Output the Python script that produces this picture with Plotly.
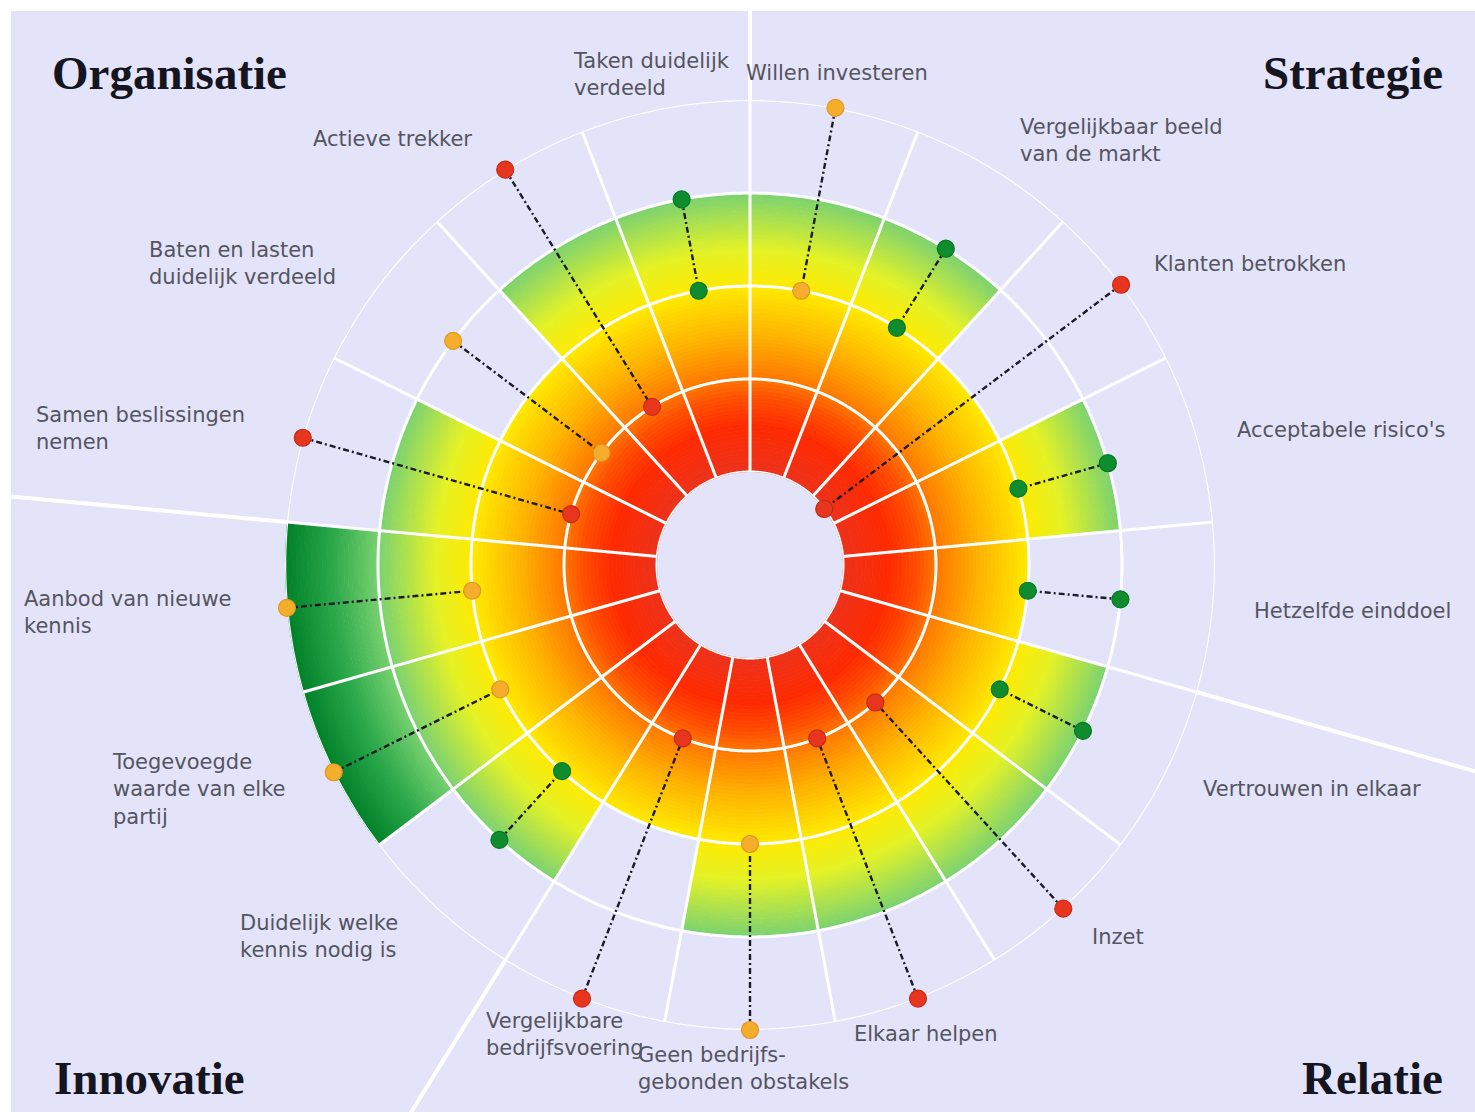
import math
import plotly.graph_objects as go

# ---- data -------------------------------------------------------------
criteria = [
    "Willen investeren",
    "Vergelijkbaar beeld van de markt",
    "Klanten betrokken",
    "Acceptabele risico's",
    "Hetzelfde einddoel",
    "Vertrouwen in elkaar",
    "Inzet",
    "Elkaar helpen",
    "Geen bedrijfsgebonden obstakels",
    "Vergelijkbare bedrijfsvoering",
    "Duidelijk welke kennis nodig is",
    "Toegevoegde waarde van elke partij",
    "Aanbod van nieuwe kennis",
    "Samen beslissingen nemen",
    "Baten en lasten duidelijk verdeeld",
    "Actieve trekker",
    "Taken duidelijk verdeeld",
]
# overall score per criterion (bar length, 0-4)
overall_score = [3, 3, 2, 3, 2, 3, 3, 3, 3, 2, 3, 4, 4, 3, 2, 3, 3]
# score given by partner A and partner B (dots)
partner_a = [4, 3, 4, 3, 3, 3, 4, 4, 4, 4, 3, 4, 4, 4, 3, 4, 3]
partner_b = [2, 2, 0, 2, 2, 2, 1, 1, 2, 1, 2, 2, 2, 1, 1, 1, 2]

quadrants = ["Strategie", "Relatie", "Innovatie", "Organisatie"]
quadrant_start = [0, 5, 10, 13]  # index of the first criterion of each quadrant

label_text = [
    "Willen investeren",
    "Vergelijkbaar beeld<br>van de markt",
    "Klanten betrokken",
    "Acceptabele risico's",
    "Hetzelfde einddoel",
    "Vertrouwen in elkaar",
    "Inzet",
    "Elkaar helpen",
    "Geen bedrijfs-<br>gebonden obstakels",
    "Vergelijkbare<br>bedrijfsvoering",
    "Duidelijk welke<br>kennis nodig is",
    "Toegevoegde<br>waarde van elke<br>partij",
    "Aanbod van nieuwe<br>kennis",
    "Samen beslissingen<br>nemen",
    "Baten en lasten<br>duidelijk verdeeld",
    "Actieve trekker",
    "Taken duidelijk<br>verdeeld",
]

# ---- layout constants ---------------------------------------------------
W, H = 1475, 1112
CX, CY, R = 750, 565, 465          # centre and outer radius of the wheel (px)
HOLE = 0.2
BG = "#E3E3FA"
N = len(criteria)
STEP = 360.0 / N
centers = [(i + 0.5) * STEP for i in range(N)]

# label anchor (left edge, vertical middle) in px
label_pos = [
    (744, 73), (1018, 140), (1152, 264), (1235, 430), (1252, 611),
    (1201, 789), (1090, 937), (852, 1034), (636, 1068), (484, 1034),
    (238, 936), (110, 789), (22, 612), (34, 429), (147, 264),
    (311, 139), (571, 74),
]
title_pos = {
    "Organisatie": (50, 73, "left"),
    "Strategie": (1445, 73, "right"),
    "Innovatie": (52, 1078, "left"),
    "Relatie": (1445, 1078, "right"),
}

# radial colour ramp: red -> orange -> yellow -> green
STOPS = [
    (0.0, (236, 50, 28)),
    (0.5, (255, 42, 0)),
    (0.8, (255, 78, 0)),
    (1.0, (255, 118, 0)),
    (1.5, (255, 182, 0)),
    (2.0, (255, 234, 0)),
    (2.4, (228, 242, 38)),
    (3.0, (122, 210, 112)),
    (3.5, (42, 168, 74)),
    (4.0, (0, 128, 40)),
]


def ramp(v):
    for (v0, c0), (v1, c1) in zip(STOPS[:-1], STOPS[1:]):
        if v <= v1:
            t = (v - v0) / (v1 - v0)
            return "rgb(%d,%d,%d)" % tuple(round(a + (b - a) * t) for a, b in zip(c0, c1))
    return "rgb(%d,%d,%d)" % STOPS[-1][1]


def status(a, b):
    gap = abs(a - b)
    if gap >= 3:
        return "#E8361E", "#C42A16"
    if gap == 2:
        return "#F5AD2C", "#E0961E"
    return "#0F8C2E", "#067822"


fig = go.Figure()

# gradient bars: each bar is built from thin radial slices
DV = 0.04
th, base, rr, cols = [], [], [], []
for i, val in enumerate(overall_score):
    steps = int(round(val / DV))
    for k in range(steps):
        v0 = k * DV
        th.append(centers[i])
        base.append(v0)
        rr.append(DV)
        cols.append(ramp(v0 + DV / 2))
fig.add_trace(go.Barpolar(
    theta=th, r=rr, base=base, width=[STEP] * len(th),
    marker=dict(color=cols, line=dict(color=cols, width=0.8)),
    hoverinfo="skip", showlegend=False,
))

# white grid: rings and spokes
ring_theta = [t * 0.5 for t in range(721)]
for level in [0, 1, 2, 3, 4]:
    fig.add_trace(go.Scatterpolar(
        r=[level] * len(ring_theta), theta=ring_theta, mode="lines",
        line=dict(color="white", width=3 if level < 4 else 2.5),
        hoverinfo="skip", showlegend=False,
    ))
sp_r, sp_t = [], []
for i in range(N):
    sp_r += [0, 4, None]
    sp_t += [i * STEP, i * STEP, None]
fig.add_trace(go.Scatterpolar(
    r=sp_r, theta=sp_t, mode="lines", line=dict(color="white", width=3),
    hoverinfo="skip", showlegend=False,
))

# connector between the two partner scores
cr, ct = [], []
for i in range(N):
    cr += [partner_a[i], partner_b[i], None]
    ct += [centers[i], centers[i], None]
fig.add_trace(go.Scatterpolar(
    r=cr, theta=ct, mode="lines",
    line=dict(color="#1c1c26", width=2.4, dash="6px,3px,2px,3px"),
    hoverinfo="skip", showlegend=False,
))

# partner scores
dr, dt, dc, dl = [], [], [], []
for i in range(N):
    fill, edge = status(partner_a[i], partner_b[i])
    for v in (partner_a[i], partner_b[i]):
        dr.append(v)
        dt.append(centers[i])
        dc.append(fill)
        dl.append(edge)
fig.add_trace(go.Scatterpolar(
    r=dr, theta=dt, mode="markers",
    marker=dict(size=17, color=dc, line=dict(color=dl, width=1.2)),
    hovertext=[criteria[i // 2] for i in range(len(dr))],
    hoverinfo="text+r", showlegend=False,
))

# quadrant dividers running out to the page edge
shapes = [dict(type="rect", xref="paper", yref="paper",
               x0=11 / W, x1=1, y0=0, y1=1 - 11 / H,
               fillcolor=BG, line=dict(width=0), layer="below")]
for q in quadrant_start:
    a = math.radians(q * STEP)
    x0, y0 = CX + R * math.sin(a), CY - R * math.cos(a)
    x1, y1 = CX + 1400 * math.sin(a), CY - 1400 * math.cos(a)
    shapes.append(dict(type="line", xref="paper", yref="paper",
                       x0=x0 / W, y0=1 - y0 / H, x1=x1 / W, y1=1 - y1 / H,
                       line=dict(color="white", width=4), layer="above"))

annotations = []
for txt, (x, y) in zip(label_text, label_pos):
    annotations.append(dict(
        text=txt, x=x / W, y=1 - y / H, xref="paper", yref="paper",
        xanchor="left", yanchor="middle", align="left", showarrow=False,
        font=dict(family="DejaVu Sans", size=21, color="#55555f"),
    ))
for name in quadrants:
    x, y, anchor = title_pos[name]
    annotations.append(dict(
        text="<b>%s</b>" % name, x=x / W, y=1 - y / H, xref="paper", yref="paper",
        xanchor=anchor, yanchor="middle", showarrow=False,
        font=dict(family="Liberation Serif", size=47, color="#15151f"),
    ))

fig.update_layout(
    width=W, height=H,
    margin=dict(l=0, r=0, t=0, b=0),
    paper_bgcolor="white",
    plot_bgcolor=BG,
    showlegend=False,
    polar=dict(
        domain=dict(x=[(CX - R) / W, (CX + R) / W],
                    y=[(H - CY - R) / H, (H - CY + R) / H]),
        hole=HOLE,
        bgcolor="rgba(0,0,0,0)",
        bargap=0,
        radialaxis=dict(range=[0, 4], visible=False),
        angularaxis=dict(direction="clockwise", rotation=90, showgrid=False,
                         showticklabels=False, ticks="", showline=False),
    ),
    shapes=shapes,
    annotations=annotations,
)

fig.write_html("out.html")
